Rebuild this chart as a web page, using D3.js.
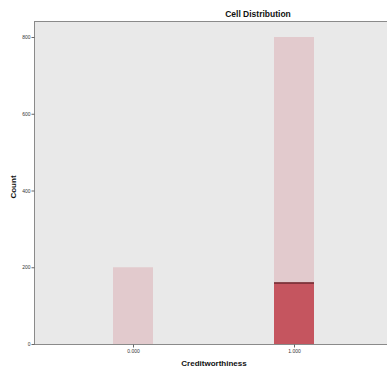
<!DOCTYPE html>
<html><head><meta charset="utf-8">
<script src="https://cdn.jsdelivr.net/npm/d3@7"></script>
<style>body{margin:0;background:#fff}svg{display:block}</style>
</head><body>
<script>
const categories = ["0.000", "1.000"];
const totalCounts = [200, 800];
const highlightCounts = [0, 160];
const yTicks = [0, 200, 400, 600, 800];

const W = 387, H = 375;
const svg = d3.select("body").append("svg").attr("width", W).attr("height", H);
const plot = {left: 34, top: 21, right: 387, bottom: 344};

const x = d3.scalePoint().domain(categories).range([133, 294]);
const y = d3.scaleLinear().domain([0, 800]).range([plot.bottom, 37]);
const barW = 40;

svg.append("rect").attr("x", plot.left).attr("y", plot.top)
  .attr("width", plot.right - plot.left).attr("height", plot.bottom - plot.top)
  .attr("fill", "#e9e9e9");

svg.selectAll("rect.total").data(categories).enter().append("rect")
  .attr("class", "total")
  .attr("x", d => x(d) - barW / 2).attr("width", barW)
  .attr("y", (d, i) => y(totalCounts[i]))
  .attr("height", (d, i) => y(0) - y(totalCounts[i]))
  .attr("fill", "#e2cacd");

svg.selectAll("rect.hl").data(categories.filter((d, i) => highlightCounts[i] > 0)).enter().append("rect")
  .attr("class", "hl")
  .attr("x", d => x(d) - barW / 2).attr("width", barW)
  .attr("y", d => y(highlightCounts[categories.indexOf(d)]))
  .attr("height", d => y(0) - y(highlightCounts[categories.indexOf(d)]))
  .attr("fill", "#c5555f");
svg.selectAll("line.hl").data(categories.filter((d, i) => highlightCounts[i] > 0)).enter().append("line")
  .attr("class", "hl")
  .attr("x1", d => x(d) - barW / 2).attr("x2", d => x(d) + barW / 2)
  .attr("y1", d => y(highlightCounts[categories.indexOf(d)]) + 0.5)
  .attr("y2", d => y(highlightCounts[categories.indexOf(d)]) + 0.5)
  .attr("stroke", "#6e2a30").attr("stroke-width", 1.5);

// frame
svg.append("line").attr("x1", plot.left).attr("x2", plot.right).attr("y1", plot.top + 0.5).attr("y2", plot.top + 0.5).attr("stroke", "#8a8a8a");
svg.append("line").attr("x1", plot.left).attr("x2", plot.right).attr("y1", plot.bottom + 0.5).attr("y2", plot.bottom + 0.5).attr("stroke", "#8a8a8a");

// axes
const yAxis = d3.axisLeft(y).tickValues(yTicks).tickSize(3).tickPadding(1);
const gy = svg.append("g").attr("transform", `translate(${plot.left + 0.5},0)`).call(yAxis);
gy.select(".domain").attr("stroke", "#8a8a8a").attr("d", `M-0,${plot.top}V${plot.bottom}`);
gy.selectAll(".tick line").attr("stroke", "#666");
gy.selectAll(".tick text").attr("font-family", "Liberation Sans, Arial, sans-serif").attr("font-size", 5).attr("fill", "#333");

const xAxis = d3.axisBottom(x).tickSize(3).tickPadding(2);
const gx = svg.append("g").attr("transform", `translate(0,${plot.bottom + 0.5})`).call(xAxis);
gx.select(".domain").remove();
gx.selectAll(".tick line").attr("stroke", "#666");
gx.selectAll(".tick text").attr("font-family", "Liberation Sans, Arial, sans-serif").attr("font-size", 5).attr("fill", "#333");

svg.append("text").attr("x", 258).attr("y", 17).attr("text-anchor", "middle")
  .attr("font-family", "Liberation Sans, Arial, sans-serif").attr("font-size", 8.5).attr("font-weight", "bold").attr("fill", "#111")
  .text("Cell Distribution");
svg.append("text").attr("x", 214).attr("y", 366).attr("text-anchor", "middle")
  .attr("font-family", "Liberation Sans, Arial, sans-serif").attr("font-size", 8).attr("font-weight", "bold").attr("fill", "#111")
  .text("Creditworthiness");
svg.append("text").attr("transform", "translate(16,187) rotate(-90)").attr("text-anchor", "middle")
  .attr("font-family", "Liberation Sans, Arial, sans-serif").attr("font-size", 8).attr("font-weight", "bold").attr("fill", "#111")
  .text("Count");
</script>
</body></html>
